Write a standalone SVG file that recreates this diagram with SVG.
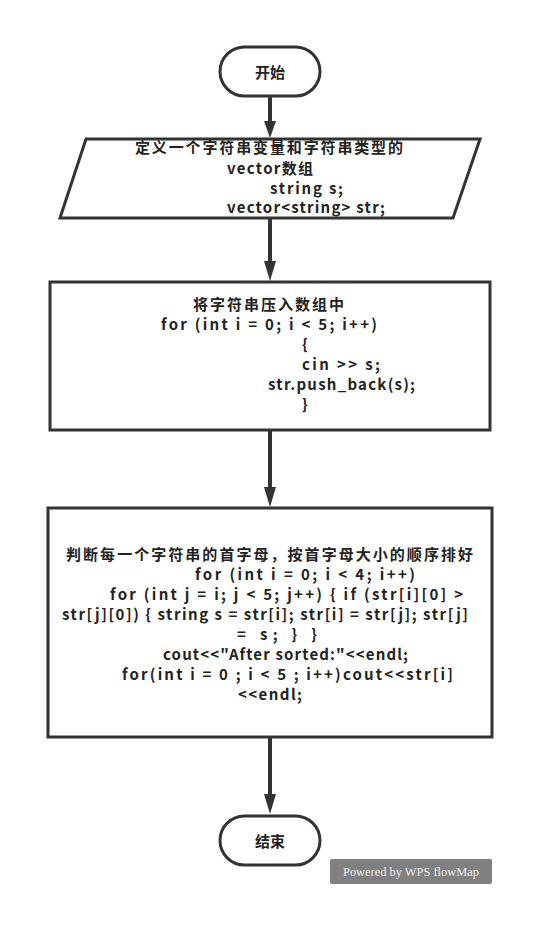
<svg xmlns="http://www.w3.org/2000/svg" width="554" height="928" viewBox="0 0 554 928">
<style>
.shape{fill:#ffffff;stroke:#333333;stroke-width:3;stroke-linejoin:miter}
.t{font-family:"Noto Sans CJK SC","Liberation Sans",sans-serif;font-size:15px;font-weight:bold;fill:#222222}
.tt{font-family:"Noto Sans CJK SC","Liberation Sans",sans-serif;font-size:15px;font-weight:bold;fill:#222222;text-anchor:middle}
.conn{stroke:#333333;stroke-width:4;fill:none}
.head{fill:#333333}
.wm{font-family:"Liberation Serif",serif;font-size:12px;fill:#eeeeee}
</style>
<rect x="0" y="0" width="554" height="928" fill="#ffffff"/>
<g id="connectors">
<line class="conn" x1="270" y1="97" x2="270" y2="122"/>
<polygon class="head" points="264,121 276,121 270,138"/>
<line class="conn" x1="270" y1="218" x2="270" y2="262"/>
<polygon class="head" points="264,261 276,261 270,281"/>
<line class="conn" x1="270" y1="430" x2="270" y2="488"/>
<polygon class="head" points="264,487 276,487 270,507"/>
<line class="conn" x1="270" y1="737" x2="270" y2="795"/>
<polygon class="head" points="264,794 276,794 270,814"/>
</g>
<g id="start">
<rect class="shape" x="220" y="47" width="100" height="49" rx="24.5"/>
<text class="tt" x="270" y="78">开始</text>
</g>
<g id="define">
<polygon class="shape" points="86,139 480,139 453,218 60,218"/>
<text class="t" x="135" y="153" textLength="268" lengthAdjust="spacing">定义一个字符串变量和字符串类型的</text>
<text class="t" x="227" y="174" textLength="86" lengthAdjust="spacing">vector数组</text>
<text class="t" x="270" y="194" textLength="73" lengthAdjust="spacing">string s;</text>
<text class="t" x="227" y="213" textLength="158" lengthAdjust="spacing">vector&lt;string&gt;  str;</text>
</g>
<g id="push">
<rect class="shape" x="50" y="282" width="440" height="148"/>
<text class="t" x="193" y="310" textLength="151" lengthAdjust="spacing">将字符串压入数组中</text>
<text class="t" x="161" y="330" textLength="216" lengthAdjust="spacing">for (int i = 0; i &lt; 5; i++)</text>
<text class="t" x="302" y="350">{</text>
<text class="t" x="302" y="370" textLength="78" lengthAdjust="spacing">cin &gt;&gt; s;</text>
<text class="t" x="268" y="390" textLength="147" lengthAdjust="spacing">str.push_back(s);</text>
<text class="t" x="302" y="410">}</text>
</g>
<g id="sort">
<rect class="shape" x="48" y="508" width="444" height="229"/>
<text class="t" x="66" y="560" textLength="407" lengthAdjust="spacing">判断每一个字符串的首字母，按首字母大小的顺序排好</text>
<text class="t" x="195" y="580" textLength="220" lengthAdjust="spacing">for (int i = 0; i &lt; 4; i++)</text>
<text class="t" x="110" y="600" textLength="353" lengthAdjust="spacing">for (int j = i; j &lt; 5; j++) { if (str[i][0] &gt;</text>
<text class="t" x="62" y="620" textLength="406" lengthAdjust="spacing">str[j][0]) { string s = str[i]; str[i] = str[j]; str[j]</text>
<text class="t" x="237" y="640" textLength="80" lengthAdjust="spacing">= s; } }</text>
<text class="t" x="163" y="660" textLength="245" lengthAdjust="spacing">cout&lt;&lt;"After sorted:"&lt;&lt;endl;</text>
<text class="t" x="122" y="680" textLength="331" lengthAdjust="spacing">for(int i = 0 ; i &lt; 5 ; i++)cout&lt;&lt;str[i]</text>
<text class="t" x="238" y="700" textLength="64" lengthAdjust="spacing">&lt;&lt;endl;</text>
</g>
<g id="end">
<rect class="shape" x="220" y="816" width="100" height="49" rx="24.5"/>
<text class="tt" x="270" y="847">结束</text>
</g>
<g id="watermark">
<rect x="330" y="859" width="162" height="25" rx="2" fill="#808080"/>
<text class="wm" x="343" y="876" textLength="136" lengthAdjust="spacingAndGlyphs">Powered by WPS flowMap</text>
</g>
</svg>
